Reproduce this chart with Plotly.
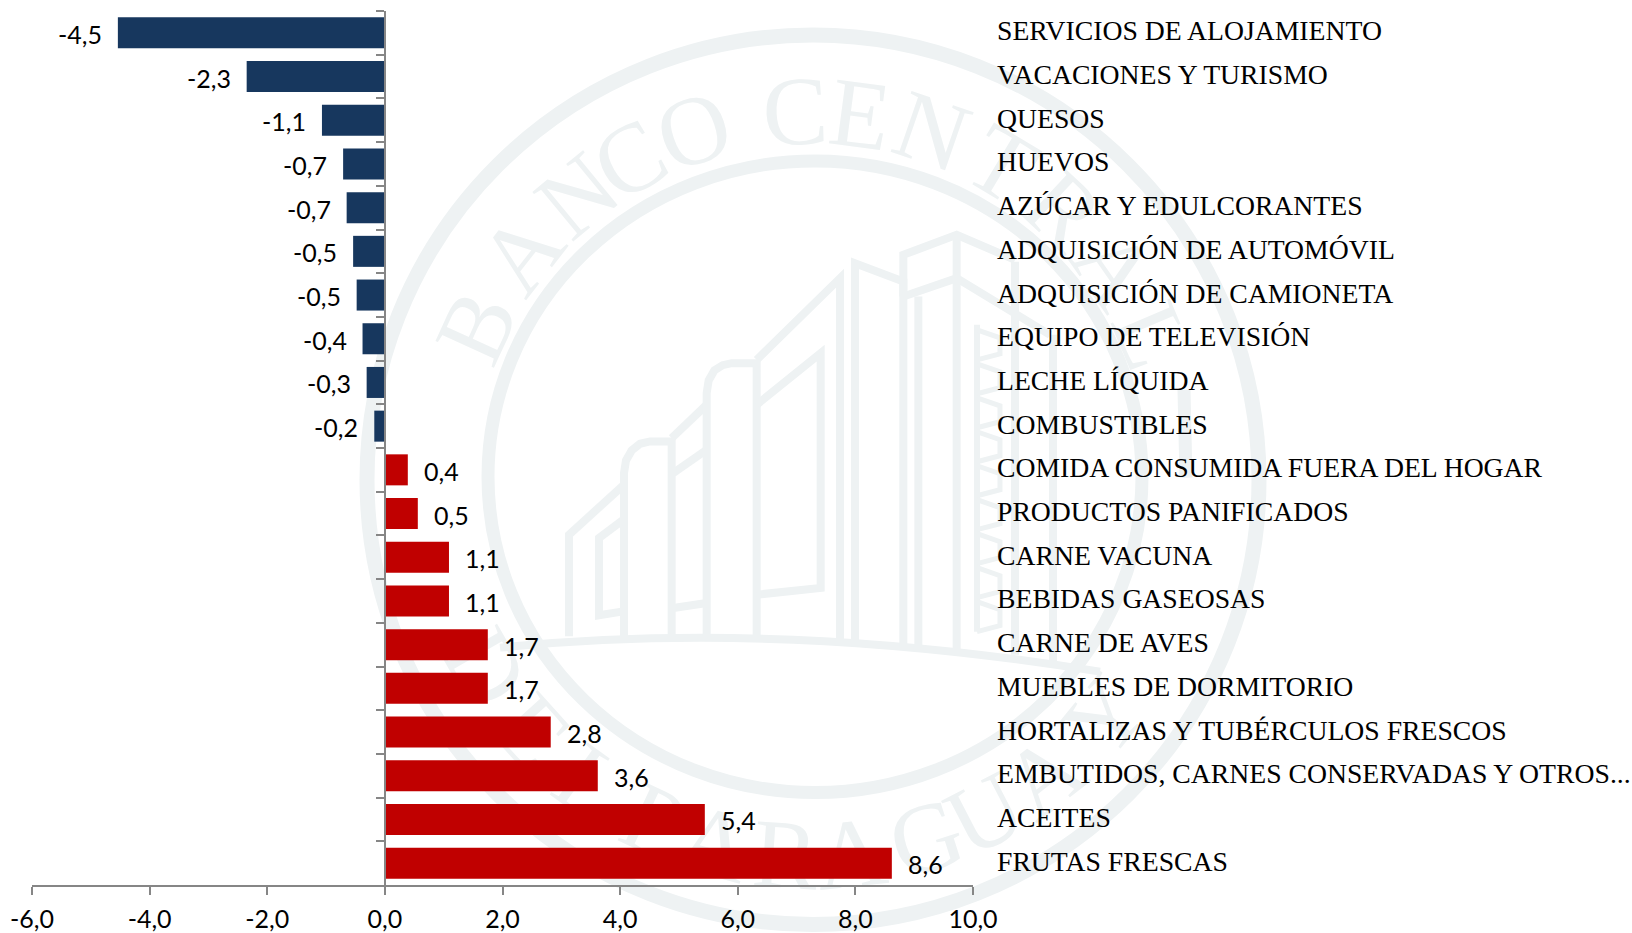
import math
import plotly.graph_objects as go

# ---------- data ----------
categories = ["SERVICIOS DE ALOJAMIENTO", "VACACIONES Y TURISMO", "QUESOS", "HUEVOS",
              "AZÚCAR Y EDULCORANTES", "ADQUISICIÓN DE AUTOMÓVIL", "ADQUISICIÓN DE CAMIONETA",
              "EQUIPO DE TELEVISIÓN", "LECHE LÍQUIDA", "COMBUSTIBLES",
              "COMIDA CONSUMIDA FUERA DEL HOGAR", "PRODUCTOS PANIFICADOS", "CARNE VACUNA",
              "BEBIDAS GASEOSAS", "CARNE DE AVES", "MUEBLES DE DORMITORIO",
              "HORTALIZAS Y TUBÉRCULOS FRESCOS", "EMBUTIDOS, CARNES CONSERVADAS Y OTROS...",
              "ACEITES", "FRUTAS FRESCAS"]
values = [-4.54, -2.35, -1.07, -0.71, -0.65, -0.54, -0.48, -0.38, -0.31, -0.18,
          0.39, 0.56, 1.09, 1.09, 1.75, 1.75, 2.82, 3.62, 5.44, 8.62]
value_labels = ["-4,5", "-2,3", "-1,1", "-0,7", "-0,7", "-0,5", "-0,5", "-0,4", "-0,3", "-0,2",
                "0,4", "0,5", "1,1", "1,1", "1,7", "1,7", "2,8", "3,6", "5,4", "8,6"]
x_ticks = [-6, -4, -2, 0, 2, 4, 6, 8, 10]
x_tick_labels = ["-6,0", "-4,0", "-2,0", "0,0", "2,0", "4,0", "6,0", "8,0", "10,0"]

NEG, POS = "#17375E", "#C00000"
AXIS = "#868686"
WM = "#EEF2F3"
W, H = 1632, 933
L, R, T, B = 32, 973, 11, 885.5


def px(x):
    return (x - L) / (R - L)


def py(y):
    return (B - y) / (B - T)


shapes, annotations = [], []


# ---------- watermark seal ----------
def ring(cx, cy, rx, ry, width):
    shapes.append(dict(type="circle", xref="paper", yref="paper", layer="below",
                       x0=px(cx - rx), x1=px(cx + rx), y0=py(cy + ry), y1=py(cy - ry),
                       line=dict(color=WM, width=width)))


def poly(points, width=8):
    d = "M " + " L ".join(f"{px(a):.5f},{py(b):.5f}" for a, b in points)
    shapes.append(dict(type="path", xref="paper", yref="paper", layer="below", path=d,
                       line=dict(color=WM, width=width)))


def z6(pts):
    return [(550 + a / 3, 220 + b / 3) for a, b in pts]


ring(813, 480, 446, 445, 15)
ring(815, 477, 327, 316, 13)
qa, qb, qc = (500, 648), (780, 620), (1100, 672)
shapes.append(dict(type="path", xref="paper", yref="paper", layer="below",
                   path=f"M {px(qa[0]):.5f},{py(qa[1]):.5f} Q {px(qb[0]):.5f},{py(qb[1]):.5f} {px(qc[0]):.5f},{py(qc[1]):.5f}",
                   line=dict(color=WM, width=8)))

building = [
    [(57, 1250), (57, 945), (222, 795)],
    [(222, 1250), (222, 760), (228, 722), (245, 692), (270, 672), (300, 665), (365, 665), (365, 1250)],
    [(365, 655), (470, 555)],
    [(470, 1250), (470, 520), (476, 482), (493, 452), (518, 436), (545, 430), (620, 430), (620, 1250)],
    [(620, 420), (870, 175), (870, 1270)],
    [(620, 555), (812, 400), (812, 1105), (620, 1125)],
    [(370, 760), (470, 690)],
    [(370, 1165), (470, 1150)],
    [(220, 900), (147, 955), (147, 1187), (220, 1175)],
    [(915, 1270), (915, 130), (1060, 185), (1060, 1280)],
    [(1060, 230), (1060, 105), (1220, 45), (1395, 120)],
    [(1060, 230), (1220, 175), (1500, 345)],
    [(1220, 45), (1220, 1290)],
    [(1105, 230), (1105, 1280)],
]
for b_ in building:
    poly(z6(b_))
poly([(1015, 262), (1015, 655)])
poly([(1053, 335), (1053, 662)])
poly([(977, 325), (977, 632)], 6)
for k in range(9):
    y0 = 330 + k * 34
    poly([(977, y0), (1000, y0 + 8), (1000, y0 + 24), (977, y0 + 30)], 5)
poly([(1184, 390), (1186, 478)], 13)

# letters of the seal, as labels of shapes so that they sit under the bars
seal_top = [("B", -65.5), ("A", -52), ("N", -39.5), ("C", -29.6), ("O", -18.7), ("C", -2.6),
            ("E", 7.5), ("N", 19), ("T", 31), ("R", 43), ("A", 55), ("L", 67)]
seal_bottom = [("D", -60), ("E", -48), ("L", -36), ("P", -25), ("A", -15), ("R", -4), ("A", 6),
               ("G", 17.7), ("U", 27.4), ("A", 38), ("Y", 51)]


def letter(ch, cx, cy, angle):
    shapes.append(dict(type="rect", xref="paper", yref="paper", layer="below",
                       x0=px(cx - 50), x1=px(cx + 50), y0=py(cy + 50), y1=py(cy - 50),
                       line=dict(width=0), fillcolor="rgba(0,0,0,0)",
                       label=dict(text=ch, textangle=angle, textposition="middle center",
                                  font=dict(family="Liberation Serif", size=98, color=WM))))


for ch, a in seal_top:
    t = math.radians(a)
    letter(ch, 812 + 380 * math.sin(t), 480 - 380 * math.cos(t), a)
for ch, a in seal_bottom:
    t = math.radians(a)
    letter(ch, 812 + 365 * math.sin(t), 480 + 365 * math.cos(t), -a)

# ---------- chart ----------
fig = go.Figure(go.Bar(
    y=categories, x=values, orientation="h",
    marker=dict(color=[NEG if v < 0 else POS for v in values], line=dict(width=0)),
    hoverinfo="skip"))

for cat, v, lab in zip(categories, values, value_labels):
    annotations.append(dict(x=v, y=cat, xref="x", yref="y", text=lab, showarrow=False,
                            xanchor="left" if v > 0 else "right",
                            xshift=14 if v > 0 else -14, yshift=-1,
                            font=dict(family="Lato", size=25, color="#000000")))
    annotations.append(dict(x=px(994.5), y=cat, xref="paper", yref="y", text=cat, showarrow=False,
                            xanchor="left", yshift=2,
                            font=dict(family="Liberation Serif", size=27.7, color="#000000")))

fig.update_layout(
    width=W, height=H, showlegend=False, bargap=0.29,
    margin=dict(l=L, r=W - R, t=T, b=H - B, autoexpand=False),
    paper_bgcolor="white", plot_bgcolor="rgba(0,0,0,0)",
    shapes=shapes, annotations=annotations,
    xaxis=dict(range=[-6, 10], tickmode="array", tickvals=x_ticks, ticktext=x_tick_labels,
               showgrid=False, zeroline=False, showline=True, linecolor=AXIS, linewidth=2,
               ticks="outside", ticklen=8, tickwidth=1.5, tickcolor=AXIS, ticklabelstandoff=3,
               tickfont=dict(family="Lato", size=25, color="#000000")),
    yaxis=dict(type="category", categoryorder="array", categoryarray=categories,
               autorange="reversed", anchor="free", position=6 / 16,
               tickson="boundaries", showticklabels=False, showgrid=False, zeroline=False,
               showline=True, linecolor=AXIS, linewidth=2,
               ticks="outside", ticklen=8, tickwidth=1.5, tickcolor=AXIS),
)

fig.write_html("out.html", config=dict(displayModeBar=False),
               post_script="document.body.style.margin='0';")
